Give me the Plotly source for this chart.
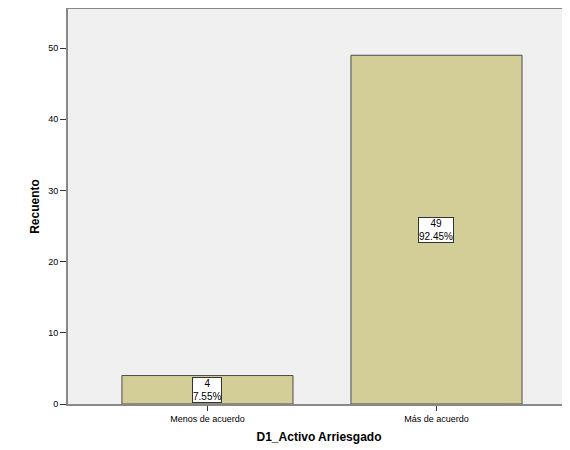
import plotly.graph_objects as go

categories = ["Menos de acuerdo", "Más de acuerdo"]
counts = [4, 49]
percents = ["7.55%", "92.45%"]
y_ticks = [0, 10, 20, 30, 40, 50]

FONT = "Liberation Sans, Arial, sans-serif"

fig = go.Figure()
fig.add_trace(go.Bar(
    x=[0, 1],
    y=counts,
    width=0.747,
    marker=dict(color="#D3CE97", line=dict(color="#4D4D4D", width=1)),
    hoverinfo="skip",
))

for i, (c, p) in enumerate(zip(counts, percents)):
    fig.add_annotation(
        x=i, y=c / 2, xref="x", yref="y",
        text=f"{c}<br>{p}", showarrow=False,
        font=dict(family=FONT, size=10, color="#000000"),
        bgcolor="#FFFFFF", bordercolor="#333333", borderwidth=1, borderpad=0,
    )

fig.update_layout(
    width=562, height=442,
    margin=dict(l=60, r=0, t=1, b=46, autoexpand=False),
    paper_bgcolor="#FFFFFF",
    plot_bgcolor="#F0F0F0",
    showlegend=False,
    font=dict(family=FONT, size=9, color="#000000"),
    xaxis=dict(
        range=[-0.609, 1.583],
        tickmode="array", tickvals=[0, 1], ticktext=categories,
        ticks="outside", ticklen=5, tickcolor="#333333", tickwidth=1,
        showline=True, linecolor="#888888", linewidth=2, mirror=True,
        showgrid=False, zeroline=False,
        tickfont=dict(family=FONT, size=9),
        title=dict(text="<b>D1_Activo Arriesgado</b>", font=dict(family=FONT, size=12), standoff=10),
    ),
    yaxis=dict(
        range=[0, 55.5],
        tickmode="array", tickvals=y_ticks,
        ticks="outside", ticklen=6, tickcolor="#333333", tickwidth=1,
        showline=True, linecolor="#888888", linewidth=2,
        showgrid=False, zeroline=False,
        tickfont=dict(family=FONT, size=9),
        title=dict(text="<b>Recuento</b>", font=dict(family=FONT, size=12), standoff=6),
    ),
)

fig.write_html("out.html")
